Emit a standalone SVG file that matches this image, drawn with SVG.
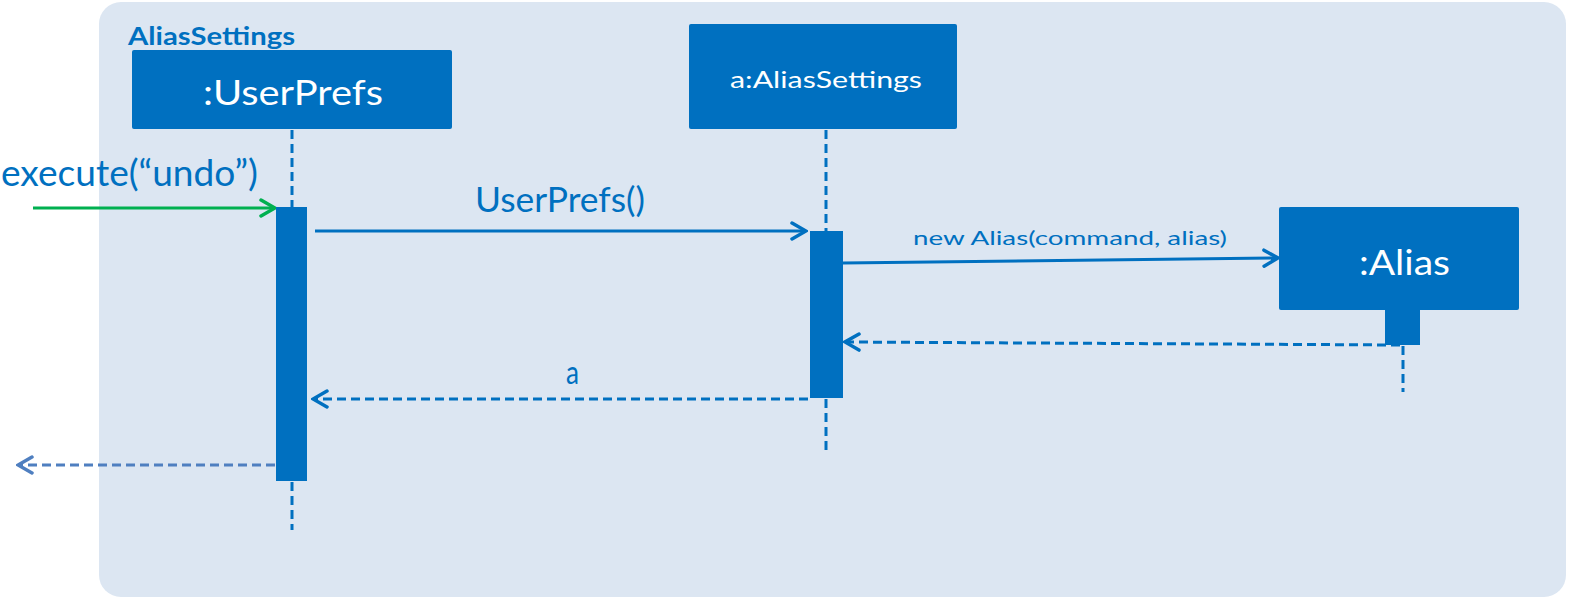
<svg xmlns="http://www.w3.org/2000/svg" width="1574" height="600" viewBox="0 0 1574 600">
<defs>
<style>
.txt{font-family:Lato,"Liberation Sans",sans-serif;}
.obj{fill:#0070c0;}
.objtxt{fill:#ffffff;}
.lbl{fill:#0070c0;}
.life{stroke:#0070c0;stroke-width:3;stroke-dasharray:9,5;fill:none;}
.msg{stroke:#0070c0;stroke-width:3;fill:none;}
.ret{stroke:#0070c0;stroke-width:3;stroke-dasharray:9,5;fill:none;}
</style>
<marker id="ah" viewBox="0 0 20 20" refX="18" refY="10" markerWidth="20" markerHeight="20" markerUnits="userSpaceOnUse" orient="auto">
<path d="M4,2 L18,10 L4,18" fill="none" stroke="#0070c0" stroke-width="3.5" stroke-linecap="round"/>
</marker>
<marker id="ahg" viewBox="0 0 20 20" refX="18" refY="10" markerWidth="20" markerHeight="20" markerUnits="userSpaceOnUse" orient="auto">
<path d="M4,2 L18,10 L4,18" fill="none" stroke="#00b050" stroke-width="3.5" stroke-linecap="round"/>
</marker>
<marker id="ahl" viewBox="0 0 20 20" refX="18" refY="10" markerWidth="20" markerHeight="20" markerUnits="userSpaceOnUse" orient="auto">
<path d="M4,2 L18,10 L4,18" fill="none" stroke="#4f7fc0" stroke-width="3.5" stroke-linecap="round"/>
</marker>
</defs>
<rect x="99" y="2" width="1467" height="595" rx="22" fill="#dce6f2"/>
<text class="txt" x="128" y="45" font-size="25" font-weight="bold" fill="#0070c0" textLength="167" lengthAdjust="spacingAndGlyphs">AliasSettings</text>

<g id="connectors">
<line class="life" x1="292" y1="130" x2="292" y2="207"/>
<line class="life" x1="292" y1="482" x2="292" y2="530"/>
<line class="life" x1="826" y1="130" x2="826" y2="231"/>
<line class="life" x1="826" y1="399" x2="826" y2="455"/>
<line class="life" x1="1403" y1="346" x2="1403" y2="392"/>
<line x1="33" y1="208" x2="275" y2="208" stroke="#00b050" stroke-width="3" marker-end="url(#ahg)"/>
<line class="msg" x1="315" y1="231" x2="806" y2="231" marker-end="url(#ah)"/>
<line class="msg" x1="843" y1="263" x2="1278" y2="258" marker-end="url(#ah)"/>
<line class="ret" x1="1400" y1="345" x2="845" y2="342" marker-end="url(#ah)"/>
<line class="ret" x1="808" y1="399" x2="313" y2="399" marker-end="url(#ah)"/>
<line x1="275" y1="465" x2="18" y2="465" stroke="#4f7fc0" stroke-width="3" stroke-dasharray="9,5" marker-end="url(#ahl)"/>
<text class="txt lbl" x="1" y="186" font-size="36" textLength="257" lengthAdjust="spacingAndGlyphs">execute(“undo”)</text>
<text class="txt lbl" x="475" y="212" font-size="34" textLength="170" lengthAdjust="spacingAndGlyphs">UserPrefs()</text>
<text class="txt lbl" x="913" y="245" font-size="20" textLength="314" lengthAdjust="spacingAndGlyphs">new Alias(command, alias)</text>
<text class="txt lbl" x="566" y="384" font-size="33" textLength="13" lengthAdjust="spacingAndGlyphs">a</text>
</g>

<g id="userprefs">
<rect class="obj" x="132" y="50" width="320" height="79" rx="2"/>
<text class="txt objtxt" x="203" y="105" font-size="35" textLength="180" lengthAdjust="spacingAndGlyphs">:UserPrefs</text>
<rect class="obj" x="276" y="207" width="31" height="274"/>
</g>

<g id="aliassettings">
<rect class="obj" x="689" y="24" width="268" height="105" rx="2"/>
<text class="txt objtxt" x="730" y="88" font-size="23" textLength="192" lengthAdjust="spacingAndGlyphs">a:AliasSettings</text>
<rect class="obj" x="810" y="231" width="33" height="167"/>
</g>

<g id="alias">
<rect class="obj" x="1279" y="207" width="240" height="103" rx="2"/>
<text class="txt objtxt" x="1359" y="275" font-size="34" textLength="91" lengthAdjust="spacingAndGlyphs">:Alias</text>
<rect class="obj" x="1385" y="309" width="35" height="36"/>
</g>
</svg>
